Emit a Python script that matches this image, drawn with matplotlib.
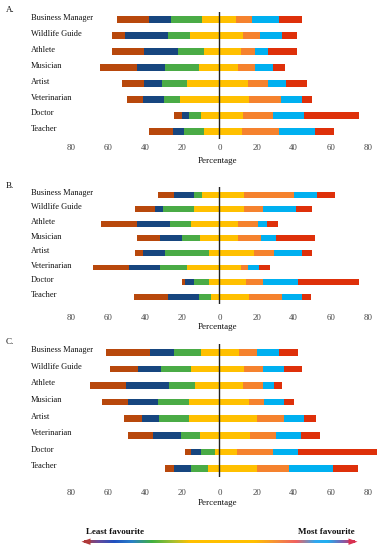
import numpy as np
import matplotlib
matplotlib.use("Agg")
import matplotlib.pyplot as plt
from matplotlib.colors import LinearSegmentedColormap
from matplotlib.patches import Polygon

plt.rcParams["font.family"] = ["Liberation Serif", "DejaVu Serif"]

careers = ["Business Manager", "Wildlife Guide", "Athlete", "Musician",
           "Artist", "Veterinarian", "Doctor", "Teacher"]

# segment widths (%), order: least favourite -> most favourite
# the neutral (yellow) response is split into a left and a right part
panel_a = {
    "brown":  [17.5, 7.3, 17.1, 20.1, 11.8, 8.4, 4.2, 13.0],
    "dblue":  [11.8, 22.7, 18.4, 15.2, 9.8, 11.6, 3.8, 5.9],
    "green":  [16.5, 12.1, 13.9, 18.0, 13.4, 8.5, 6.6, 10.7],
    "yel_l":  [9.6, 15.9, 8.6, 11.3, 17.7, 21.3, 10.0, 8.6],
    "yel_r":  [8.9, 12.5, 11.4, 10.2, 15.2, 15.7, 12.5, 12.0],
    "orange": [8.4, 9.3, 7.7, 8.9, 10.7, 17.3, 16.4, 20.1],
    "lblue":  [15.0, 12.1, 7.0, 9.5, 9.8, 11.6, 16.6, 19.5],
    "red":    [12.3, 7.9, 15.7, 6.6, 11.6, 5.4, 29.5, 10.0],
}
panel_b = {
    "brown":  [8.9, 10.6, 19.6, 12.2, 4.1, 19.8, 1.8, 18.8],
    "dblue":  [10.7, 4.3, 18.1, 11.9, 12.0, 16.3, 5.0, 16.2],
    "green":  [4.0, 16.9, 11.0, 10.0, 23.8, 14.6, 8.1, 6.7],
    "yel_l":  [9.6, 13.6, 15.4, 10.4, 5.5, 17.7, 5.5, 4.6],
    "yel_r":  [13.4, 13.4, 10.2, 10.2, 18.4, 11.6, 14.3, 15.7],
    "orange": [26.8, 9.8, 10.3, 12.1, 11.1, 3.9, 8.9, 17.9],
    "lblue":  [12.1, 17.9, 4.9, 8.2, 14.8, 5.9, 19.3, 10.7],
    "red":    [9.8, 8.9, 5.9, 20.9, 5.7, 5.9, 32.5, 4.8],
}
panel_c = {
    "brown":  [23.5, 14.9, 19.4, 14.1, 10.0, 13.8, 3.0, 4.5],
    "dblue":  [13.0, 12.5, 23.4, 16.1, 9.3, 14.8, 5.6, 9.3],
    "green":  [14.7, 16.1, 13.9, 17.0, 16.1, 10.1, 7.5, 9.0],
    "yel_l":  [10.0, 15.4, 13.1, 16.3, 16.3, 10.7, 2.3, 6.4],
    "yel_r":  [10.4, 13.4, 12.5, 15.7, 20.2, 16.6, 9.5, 20.2],
    "orange": [9.8, 9.9, 10.8, 8.5, 14.7, 14.0, 19.1, 17.0],
    "lblue":  [11.8, 11.6, 6.2, 10.7, 10.9, 13.4, 13.6, 24.2],
    "red":    [10.2, 9.5, 4.1, 5.4, 6.3, 10.2, 42.6, 13.0],
}

colors = {
    "brown": "#b8480c", "dblue": "#17467f", "green": "#4aab46",
    "yel_l": "#ffc000", "yel_r": "#ffc000", "orange": "#f5822e",
    "lblue": "#00b0f0", "red": "#de300a",
}
left_keys = ["yel_l", "green", "dblue", "brown"]   # stacked outward from 0
right_keys = ["yel_r", "orange", "lblue", "red"]

xticks = [-80, -60, -40, -20, 0, 20, 40, 60, 80]

W, H = 383, 550
fig = plt.figure(figsize=(W / 100, H / 100), dpi=100)

# pixel layout: (letter, data, axes top, axes bottom, tick pad, xlabel y)
panels = [
    ("A.", panel_a, 11.7, 139.3, 3.2, 161.0),
    ("B.", panel_b, 187.3, 304.0, 7.3, 327.3),
    ("C.", panel_c, 344.0, 476.7, 8.5, 503.0),
]

ax_left_px, ax_right_px = 63.6, 379.1
y = np.arange(len(careers))

for letter, data, top, bot, pad, xl_y in panels:
    ax = fig.add_axes([ax_left_px / W, 1 - bot / H,
                       (ax_right_px - ax_left_px) / W, (bot - top) / H])
    start = np.zeros(len(careers))
    for k in left_keys:
        vals = np.array(data[k])
        ax.barh(y, -vals, left=-start, height=0.4, color=colors[k], lw=0)
        start += vals
    start = np.zeros(len(careers))
    for k in right_keys:
        vals = np.array(data[k])
        ax.barh(y, vals, left=start, height=0.4, color=colors[k], lw=0)
        start += vals

    ax.axvline(0, color="#222222", lw=1.0)
    ax.set_xlim(-84, 86)
    ax.set_ylim(len(careers) - 0.5, -0.5)
    ax.set_yticks([])
    ax.set_xticks(xticks)
    ax.set_xticklabels([str(abs(t)) for t in xticks], fontsize=6.3, color="#444444")
    ax.tick_params(axis="x", length=0, pad=pad)
    for s in ax.spines.values():
        s.set_visible(False)

    for i, name in enumerate(careers):
        ax.text((30.5 - ax_left_px) / (ax_right_px - ax_left_px), i - 0.12, name,
                transform=ax.get_yaxis_transform(), ha="left", va="center",
                fontsize=6.0, color="#111111")

    fig.text(218.0 / W, 1 - xl_y / H, "Percentage", ha="center", va="center",
             fontsize=6.5, color="#111111")
    fig.text(6.0 / W, 1 - (top - 1.5) / H, letter, ha="left", va="center",
             fontsize=6.5, color="#111111")

# colour key arrow at the bottom
lg = fig.add_axes([0, 0, 1, 1], facecolor="none")
lg.set_xlim(0, W)
lg.set_ylim(H, 0)
lg.axis("off")

stops = [
    (0.0, "#b03a3a"), (0.05, "#6a4a9a"), (0.11, "#2050c0"), (0.175, "#2a80c8"),
    (0.25, "#40b040"), (0.33, "#a8c030"), (0.39, "#ffc000"), (0.63, "#ffc000"),
    (0.72, "#f58a40"), (0.785, "#f06060"), (0.855, "#30a8f0"), (0.9, "#20b0f0"),
    (0.955, "#8060b0"), (1.0, "#d83050"),
]
cmap = LinearSegmentedColormap.from_list("fav", stops)
grad = np.linspace(0, 1, 512).reshape(1, -1)
x0, x1, yc = 84.0, 355.0, 541.7
lg.imshow(grad, cmap=cmap, aspect="auto", extent=[x0, x1, yc + 1.3, yc - 1.3],
          interpolation="bilinear")
lg.add_patch(Polygon([[81.5, yc], [90.5, yc - 3.2], [90.5, yc + 3.2]],
                     closed=True, color="#b03a3a", lw=0))
lg.add_patch(Polygon([[357.5, yc], [348.5, yc - 3.2], [348.5, yc + 3.2]],
                     closed=True, color="#d83050", lw=0))
lg.text(86.5, 531.7, "Least favourite", ha="left", va="center",
        fontsize=6.5, fontweight="bold", color="#111111")
lg.text(354.5, 531.7, "Most favourite", ha="right", va="center",
        fontsize=6.5, fontweight="bold", color="#111111")

fig.savefig("out.png", dpi=100)
